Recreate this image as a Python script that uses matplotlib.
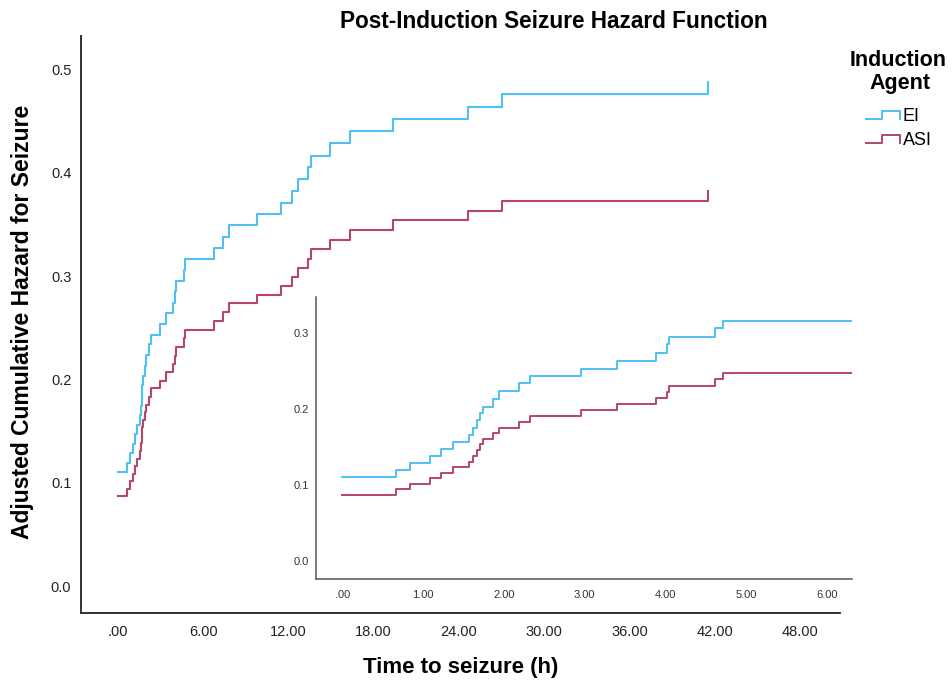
import matplotlib
matplotlib.use("Agg")
import matplotlib.pyplot as plt
from matplotlib.lines import Line2D
from matplotlib.ticker import FuncFormatter

plt.rcParams['font.family'] = ['Liberation Sans', 'DejaVu Sans']

# ---- data ----
times = [0.0, 0.66, 0.84, 1.08, 1.22, 1.37, 1.57, 1.62, 1.67, 1.70, 1.74, 1.87,
         1.94, 2.19, 2.32, 2.95, 3.40, 3.89, 4.02, 4.05, 4.62, 4.72,
         6.76, 7.37, 7.79, 9.76, 11.47, 12.27, 12.67, 13.37, 13.56, 14.92,
         16.33, 19.37, 24.61, 27.00, 41.54]
hazard_ei = [0.110, 0.119, 0.1285, 0.1377, 0.1474, 0.1562, 0.1658, 0.1747, 0.1856,
             0.1945, 0.2032, 0.2133, 0.2239, 0.2340, 0.2433, 0.2533, 0.2639, 0.2744,
             0.2855, 0.2955, 0.3061, 0.3162, 0.3272, 0.3382, 0.3495, 0.3601, 0.3711,
             0.3824, 0.394, 0.4053, 0.4166, 0.4285, 0.4405, 0.4521, 0.464, 0.4766, 0.488]
hazard_asi = [0.0867, 0.0942, 0.1012, 0.1087, 0.1161, 0.1232, 0.1306, 0.1385, 0.1460,
              0.1535, 0.1606, 0.1681, 0.1755, 0.1834, 0.1913, 0.1988, 0.2067, 0.2150,
              0.2230, 0.2309, 0.2397, 0.2480, 0.2569, 0.2655, 0.2737, 0.2817, 0.2907,
              0.2994, 0.3081, 0.3166, 0.3259, 0.335, 0.3446, 0.3543, 0.3633, 0.373, 0.3824]
series_names = ["EI", "ASI"]
main_xticks = [0, 6, 12, 18, 24, 30, 36, 42, 48]
main_yticks = [0.0, 0.1, 0.2, 0.3, 0.4, 0.5]
inset_xticks = [0, 1, 2, 3, 4, 5, 6]
inset_yticks = [0.0, 0.1, 0.2, 0.3]

colors = ["#4FC0F6", "#B5456F"]
W, H = 952, 682

fig = plt.figure(figsize=(W / 100, H / 100), dpi=100)


def fx(px):
    return px / W


def fy(py):
    return 1 - py / H


def dec_fmt(v, pos):
    s = f"{v:.2f}"
    return s[1:] if s.startswith("0") else s


# ---- main axes ----
ax = fig.add_axes([fx(81), fy(613), fx(840) - fx(81), fy(36) - fy(613)])
for vals, c in zip([hazard_ei, hazard_asi], colors):
    ax.step(times, vals, where="post", color=c, lw=1.5)
ax.set_xlim(-2.60, 50.81)
ax.set_ylim(-0.0261, 0.5324)
ax.set_xticks(main_xticks)
ax.set_yticks(main_yticks)
ax.xaxis.set_major_formatter(FuncFormatter(dec_fmt))
ax.yaxis.set_major_formatter(FuncFormatter(lambda v, p: f"{v:.1f}"))
ax.tick_params(length=0, labelsize=10.5, colors="#222222")
ax.tick_params(axis="x", pad=9)
ax.tick_params(axis="y", pad=7)
for s in ["top", "right"]:
    ax.spines[s].set_visible(False)
for s in ["left", "bottom"]:
    ax.spines[s].set_color("#333333")
    ax.spines[s].set_linewidth(1.4)
ax.set_facecolor("white")

# axis labels & title
fig.text(fx(23), fy(322), "Adjusted Cumulative Hazard for Seizure", rotation=90,
         ha="center", va="center", fontsize=16.5, fontweight="bold")
fig.text(fx(461), fy(668), "Time to seizure (h)", ha="center", va="center",
         fontsize=16, fontweight="bold")
fig.text(fx(554), fy(21), "Post-Induction Seizure Hazard Function", ha="center",
         va="center", fontsize=16.3, fontweight="bold")

# ---- inset axes ----
ax2 = fig.add_axes([fx(316), fy(579.3), fx(852) - fx(316), fy(296.7) - fy(579.3)])
for vals, c in zip([hazard_ei, hazard_asi], colors):
    ax2.step(times, vals, where="post", color=c, lw=1.4)
ax2.set_xlim(-0.328, 6.313)
ax2.set_ylim(-0.0245, 0.348)
ax2.set_xticks(inset_xticks)
ax2.set_yticks(inset_yticks)
ax2.xaxis.set_major_formatter(FuncFormatter(dec_fmt))
ax2.yaxis.set_major_formatter(FuncFormatter(lambda v, p: f"{v:.1f}"))
ax2.tick_params(length=0, labelsize=8, colors="#333333")
ax2.tick_params(axis="x", pad=8)
ax2.tick_params(axis="y", pad=5)
for s in ["top", "right"]:
    ax2.spines[s].set_visible(False)
for s in ["left", "bottom"]:
    ax2.spines[s].set_color("#555555")
    ax2.spines[s].set_linewidth(1.1)
ax2.patch.set_alpha(0)

# ---- legend (manual, step-shaped icons) ----
fig.text(fx(898), fy(61), "Induction", ha="center", va="center", fontsize=15.5,
         fontweight="bold")
fig.text(fx(900), fy(83), "Agent", ha="center", va="center", fontsize=15.5,
         fontweight="bold")
legend_rows = [(119, 111), (143, 135)]
for name, c, (ylo, yhi) in zip(series_names, colors, legend_rows):
    xs = [fx(866), fx(882), fx(882), fx(900), fx(900)]
    ys = [fy(ylo), fy(ylo), fy(yhi), fy(yhi), fy(ylo)]
    fig.add_artist(Line2D(xs, ys, color=c, lw=1.4, transform=fig.transFigure))
    fig.text(fx(903), fy((ylo + yhi) / 2 + 1.5), name, ha="left", va="center",
             fontsize=13)

fig.savefig("out.png", dpi=100, facecolor="white")
